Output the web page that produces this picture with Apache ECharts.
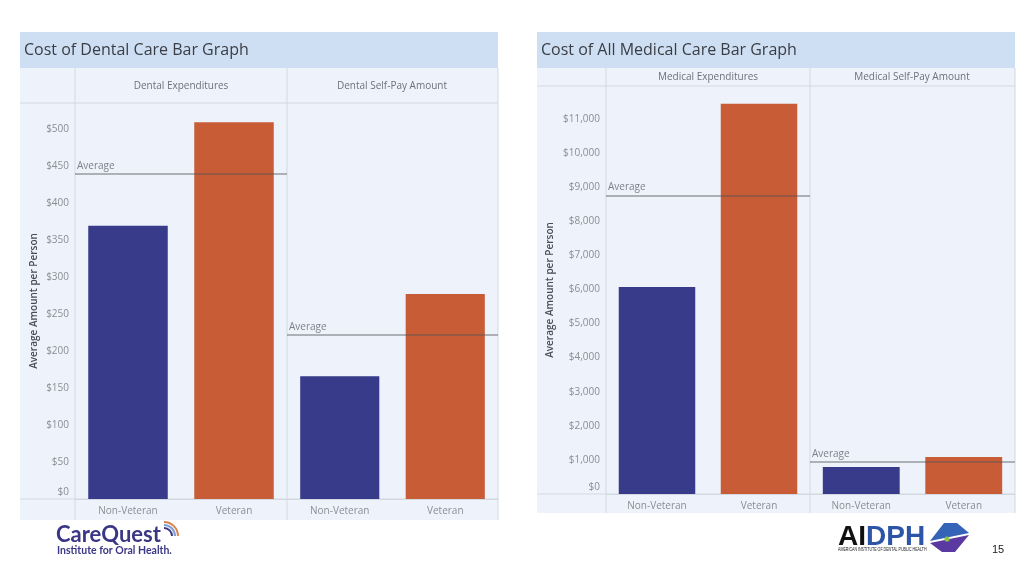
<!DOCTYPE html>
<html>
<head>
<meta charset="utf-8">
<script src="https://cdn.jsdelivr.net/npm/echarts@6/dist/echarts.min.js"></script>
<style>
html,body{margin:0;padding:0;background:#ffffff;}
#chart{width:1024px;height:576px;}
</style>
</head>
<body>
<div id="chart"></div>
<script>
// ---- data ----
const categories = ['Non-Veteran', 'Veteran'];
const dentalExpenditures = [369, 509];
const dentalSelfPay = [166, 277];
const medicalExpenditures = [6070, 11440];
const medicalSelfPay = [792, 1085];

const chartTitles = ['Cost of Dental Care Bar Graph', 'Cost of All Medical Care Bar Graph'];
const facetHeaders = ['Dental Expenditures', 'Dental Self-Pay Amount', 'Medical Expenditures', 'Medical Self-Pay Amount'];
const yAxisName = 'Average Amount per Person';
const averageLabel = 'Average';

const dentalTicks = { min: 0, max: 535, interval: 50 };
const medicalTicks = { min: 0, max: 11960, interval: 1000 };

// ---- styles ----
const FONT = '"Open Sans", "Noto Sans", sans-serif';
const NAVY = '#383a8a';
const ORANGE = '#c75c37';
const PANEL = '#eef3fb';
const BAND = '#cfdff3';
const LINE = '#d3d8e0';

function money(v) {
  return '$' + Math.round(v).toLocaleString('en-US');
}
function yLabelFormatter(v, ticks) {
  if (v === ticks.min) return '{z|' + money(v) + '}';
  if (v % ticks.interval !== 0) return '';
  return money(v);
}

const grids = [
  { left: 75, right: 1024 - 287, top: 103, bottom: 576 - 499 },
  { left: 287, right: 1024 - 498, top: 103, bottom: 576 - 499 },
  { left: 606, right: 1024 - 810, top: 86, bottom: 576 - 494 },
  { left: 810, right: 1024 - 1015, top: 86, bottom: 576 - 494 }
];

function xAxis(i) {
  return {
    type: 'category', gridIndex: i, data: categories,
    axisLine: { show: true, lineStyle: { color: LINE } },
    axisTick: { show: false },
    axisLabel: { color: '#8a8d94', fontSize: 10, fontFamily: FONT, margin: 7 }
  };
}
function yAxis(i, ticks, showLabels, nameGap) {
  return {
    type: 'value', gridIndex: i, min: ticks.min, max: ticks.max, interval: ticks.interval,
    name: showLabels ? yAxisName : '',
    nameLocation: 'middle', nameRotate: 90, nameGap: nameGap,
    nameTextStyle: { color: '#4a4d55', fontSize: 10, fontWeight: 600, fontFamily: FONT },
    axisLine: { show: false }, axisTick: { show: false }, splitLine: { show: false },
    axisLabel: {
      show: showLabels, color: '#8a8d94', fontSize: 10, fontFamily: FONT, margin: 6,
      showMaxLabel: false,
      formatter: v => yLabelFormatter(v, ticks),
      rich: { z: { color: '#8a8d94', fontSize: 10, fontFamily: FONT, padding: [0, 0, 14, 0] } }
    }
  };
}
function barSeries(i, values) {
  return {
    type: 'bar', xAxisIndex: i, yAxisIndex: i,
    barCategoryGap: '25%',
    data: values.map((v, k) => ({ value: v, itemStyle: { color: k === 0 ? NAVY : ORANGE } })),
    markLine: {
      silent: true, symbol: 'none',
      data: [{ type: 'average', name: averageLabel }],
      lineStyle: { color: 'rgba(80,80,85,0.55)', width: 1.5, type: 'solid' },
      label: { show: true, position: 'insideStartTop', formatter: averageLabel, color: '#7d8088', fontSize: 10, fontFamily: FONT, distance: [2, 3] }
    }
  };
}

function vline(x, y1, y2) {
  return { type: 'line', shape: { x1: x, y1: y1, x2: x, y2: y2 }, style: { stroke: LINE, lineWidth: 1 }, silent: true };
}
function hline(y, x1, x2) {
  return { type: 'line', shape: { x1: x1, y1: y, x2: x2, y2: y }, style: { stroke: LINE, lineWidth: 1 }, silent: true };
}
function txt(x, y, text, size, color, opts, extra) {
  return Object.assign({ type: 'text', x: x, y: y, style: Object.assign({ text: text, fontSize: size, fill: color, fontFamily: FONT, textVerticalAlign: 'middle', verticalAlign: 'middle' }, opts || {}), silent: true }, extra || {});
}

const LOGO_FONT = '"Liberation Sans", Arial, sans-serif';
const graphics = [
  // left panel
  { type: 'rect', shape: { x: 20, y: 32, width: 478, height: 488 }, style: { fill: PANEL }, z: -10, silent: true },
  { type: 'rect', shape: { x: 20, y: 32, width: 478, height: 36 }, style: { fill: BAND }, z: -9, silent: true },
  // right panel
  { type: 'rect', shape: { x: 537, y: 32, width: 478, height: 481 }, style: { fill: PANEL }, z: -10, silent: true },
  { type: 'rect', shape: { x: 537, y: 32, width: 478, height: 36 }, style: { fill: BAND }, z: -9, silent: true },
  // left grid lines
  vline(75, 68, 520), vline(287, 68, 520), vline(498, 68, 520),
  hline(103, 20, 498), hline(499, 20, 498),
  // right grid lines
  vline(606, 68, 513), vline(810, 68, 513), vline(1015, 68, 513),
  hline(86, 537, 1015), hline(494, 537, 1015),
  // titles
  txt(24, 50, chartTitles[0], 16, '#3a3d44'),
  txt(541, 50, chartTitles[1], 16, '#3a3d44'),
  // facet headers
  txt(181, 86, facetHeaders[0], 10, '#6e7179', { align: 'center', textAlign: 'center' }),
  txt(392, 86, facetHeaders[1], 10, '#6e7179', { align: 'center', textAlign: 'center' }),
  txt(708, 77, facetHeaders[2], 10, '#6e7179', { align: 'center', textAlign: 'center' }),
  txt(912, 77, facetHeaders[3], 10, '#6e7179', { align: 'center', textAlign: 'center' }),
  // CareQuest logo
  txt(56, 535, 'CareQuest', 22, '#3b3784', { fontWeight: 'bold', fontFamily: '"Lato", "Open Sans", sans-serif' }),
  txt(57, 551, 'Institute for Oral Health.', 10.5, '#3b3784', { fontWeight: 'bold', fontFamily: '"Lato", "Open Sans", sans-serif' }),
  { type: 'arc', shape: { cx: 164, cy: 536, r: 14, startAngle: -Math.PI * 0.5, endAngle: 0 }, style: { stroke: '#d9844a', lineWidth: 2, fill: null }, silent: true },
  { type: 'arc', shape: { cx: 164, cy: 536, r: 11, startAngle: -Math.PI * 0.5, endAngle: 0 }, style: { stroke: '#7ca0d6', lineWidth: 2, fill: null }, silent: true },
  { type: 'arc', shape: { cx: 164, cy: 536, r: 8, startAngle: -Math.PI * 0.5, endAngle: 0 }, style: { stroke: '#3b3784', lineWidth: 2, fill: null }, silent: true },
  // AIDPH logo
  txt(838, 537, '{a|AI}{b|DPH}', 28, '#111111', {
    fontWeight: 'bold', fontFamily: LOGO_FONT,
    rich: {
      a: { fontSize: 28, fontWeight: 'bold', fontFamily: LOGO_FONT, fill: '#111111', color: '#111111' },
      b: { fontSize: 28, fontWeight: 'bold', fontFamily: LOGO_FONT, fill: '#2c55a8', color: '#2c55a8' }
    }
  }),
  txt(0, 0, 'AMERICAN INSTITUTE OF DENTAL PUBLIC HEALTH', 5, '#222222', { fontFamily: LOGO_FONT }, { x: 838, y: 549.5, scaleX: 0.72, scaleY: 1, originX: 0, originY: 0 }),
  { type: 'polygon', shape: { points: [[944, 523], [957, 523], [969, 533], [930, 541]] }, style: { fill: '#3563b8' }, silent: true },
  { type: 'polygon', shape: { points: [[930, 543], [969, 535], [955, 552], [942, 552]] }, style: { fill: '#5a3aa0' }, silent: true },
  { type: 'circle', shape: { cx: 947, cy: 539, r: 2.6 }, style: { fill: '#8cc63f' }, silent: true },
  // page number
  txt(992, 550, '15', 11, '#222222', { fontFamily: LOGO_FONT })
];

const chart = echarts.init(document.getElementById('chart'), null, { renderer: 'canvas' });
chart.setOption({
  backgroundColor: '#ffffff',
  animation: false,
  grid: grids,
  xAxis: [xAxis(0), xAxis(1), xAxis(2), xAxis(3)],
  yAxis: [
    yAxis(0, dentalTicks, true, 36),
    yAxis(1, dentalTicks, false, 0),
    yAxis(2, medicalTicks, true, 51),
    yAxis(3, medicalTicks, false, 0)
  ],
  series: [
    barSeries(0, dentalExpenditures),
    barSeries(1, dentalSelfPay),
    barSeries(2, medicalExpenditures),
    barSeries(3, medicalSelfPay)
  ],
  graphic: graphics
});
</script>
</body>
</html>
